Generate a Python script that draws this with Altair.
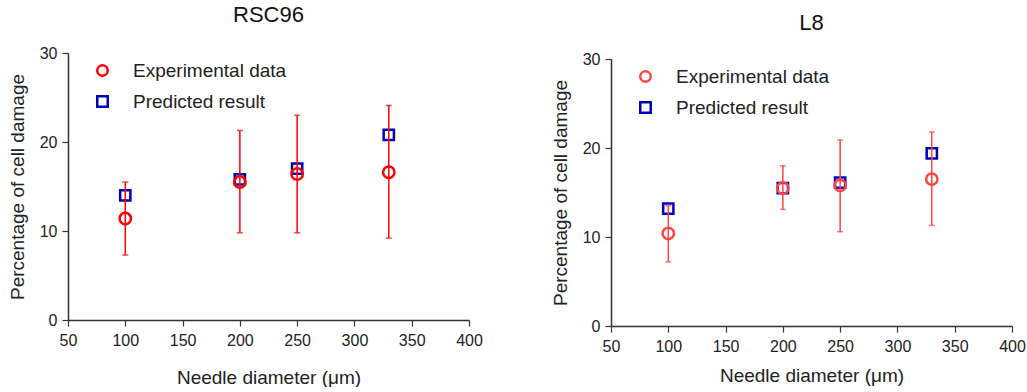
import altair as alt
import pandas as pd

# ---- data ----
diam = [100, 200, 250, 330]
series_names = ["Experimental data", "Predicted result"]

rsc_exp = [11.4, 15.5, 16.4, 16.6]
rsc_lo = [7.3, 9.8, 9.8, 9.2]
rsc_hi = [15.5, 21.3, 23.0, 24.1]
rsc_pred = [14.0, 15.8, 17.0, 20.8]

l8_exp = [10.4, 15.5, 15.8, 16.5]
l8_lo = [7.2, 13.1, 10.6, 11.3]
l8_hi = [13.5, 18.0, 20.9, 21.8]
l8_pred = [13.2, 15.5, 16.1, 19.4]

x_ticks = [50, 100, 150, 200, 250, 300, 350, 400]
y_ticks = [0, 10, 20, 30]

FONT = "Liberation Sans"
BLUE = "#0000BB"
W, H = 401, 267


def panel(title, exp, lo, hi, pred, red, x_title_pad, title_offset):
    exp_df = pd.DataFrame({"d": diam, "v": exp, "lo": lo, "hi": hi,
                           "series": series_names[0]})
    pred_df = pd.DataFrame({"d": diam, "v": pred, "series": series_names[1]})

    xs = alt.Scale(domain=[50, 400], nice=False, zero=False)
    ys = alt.Scale(domain=[0, 30], nice=False)
    xax = alt.Axis(values=x_ticks, title="Needle diameter (\u03bcm)",
                   titlePadding=x_title_pad, grid=False, labelFlush=False)
    yax = alt.Axis(values=y_ticks, title="Percentage of cell damage",
                   titlePadding=12, grid=False, labelFlush=False)

    color = alt.Color("series:N",
                      scale=alt.Scale(domain=series_names, range=[red, BLUE]),
                      legend=alt.Legend(title=None, orient="none",
                                        legendX=25, legendY=8,
                                        labelFontSize=19, labelFont=FONT,
                                        labelColor="#222", symbolStrokeWidth=2.5,
                                        symbolSize=110, rowPadding=10,
                                        labelOffset=21, padding=0))
    shape = alt.Shape("series:N",
                      scale=alt.Scale(domain=series_names, range=["circle", "square"]),
                      legend=None)

    base_exp = alt.Chart(exp_df)
    squares = alt.Chart(pred_df).mark_point(filled=False, strokeWidth=2.5, size=105, opacity=1).encode(
        x=alt.X("d:Q", scale=xs, axis=xax),
        y=alt.Y("v:Q", scale=ys, axis=yax),
        color=color, shape=shape)
    circles = base_exp.mark_point(filled=False, strokeWidth=2.5, size=130, opacity=1).encode(
        x=alt.X("d:Q", scale=xs), y=alt.Y("v:Q", scale=ys),
        color=color, shape=shape)
    bars = base_exp.mark_rule(color=red, strokeWidth=1.5).encode(
        x=alt.X("d:Q", scale=xs), y=alt.Y("lo:Q", scale=ys), y2="hi:Q")
    cap_lo = base_exp.mark_tick(color=red, size=6, thickness=1.5, orient="horizontal").encode(
        x=alt.X("d:Q", scale=xs), y=alt.Y("lo:Q", scale=ys))
    cap_hi = base_exp.mark_tick(color=red, size=6, thickness=1.5, orient="horizontal").encode(
        x=alt.X("d:Q", scale=xs), y=alt.Y("hi:Q", scale=ys))

    return alt.layer(squares, circles, bars, cap_lo, cap_hi).properties(
        width=W, height=H,
        title=alt.TitleParams(title, fontSize=22, font=FONT, fontWeight="normal",
                              color="#111", offset=title_offset))


def column(spacer_h, chart):
    spacer = alt.Chart(pd.DataFrame({"a": [0]})).mark_point(opacity=0, size=0).properties(
        width=W, height=spacer_h)
    return alt.vconcat(spacer, chart, spacing=0).resolve_scale(
        color="independent", shape="independent", x="independent", y="independent"
    ).resolve_legend(color="independent", shape="independent")


left = column(4, panel("RSC96", rsc_exp, rsc_lo, rsc_hi, rsc_pred, "#FF0000", 20, 18))
right = column(12, panel("L8", l8_exp, l8_lo, l8_hi, l8_pred, "#FF4545", 12, 16))

chart = alt.hconcat(left, right, spacing=68).resolve_scale(
    color="independent", shape="independent", x="independent", y="independent"
).resolve_legend(color="independent", shape="independent").properties(
    padding={"left": 8, "top": 0, "right": 0, "bottom": 0}
).configure_view(stroke=None).configure_axis(
    domainColor="#333", domainWidth=1.5, tickColor="#333", tickWidth=1.2, tickSize=6,
    labelPadding=5, labelFontSize=16, labelFont=FONT, labelColor="#222",
    titleFontSize=19, titleFont=FONT, titleFontWeight="normal", titleColor="#222"
).configure_axisX(labelPadding=6)

chart.save("out.html", embed_options={"renderer": "svg", "actions": False})
